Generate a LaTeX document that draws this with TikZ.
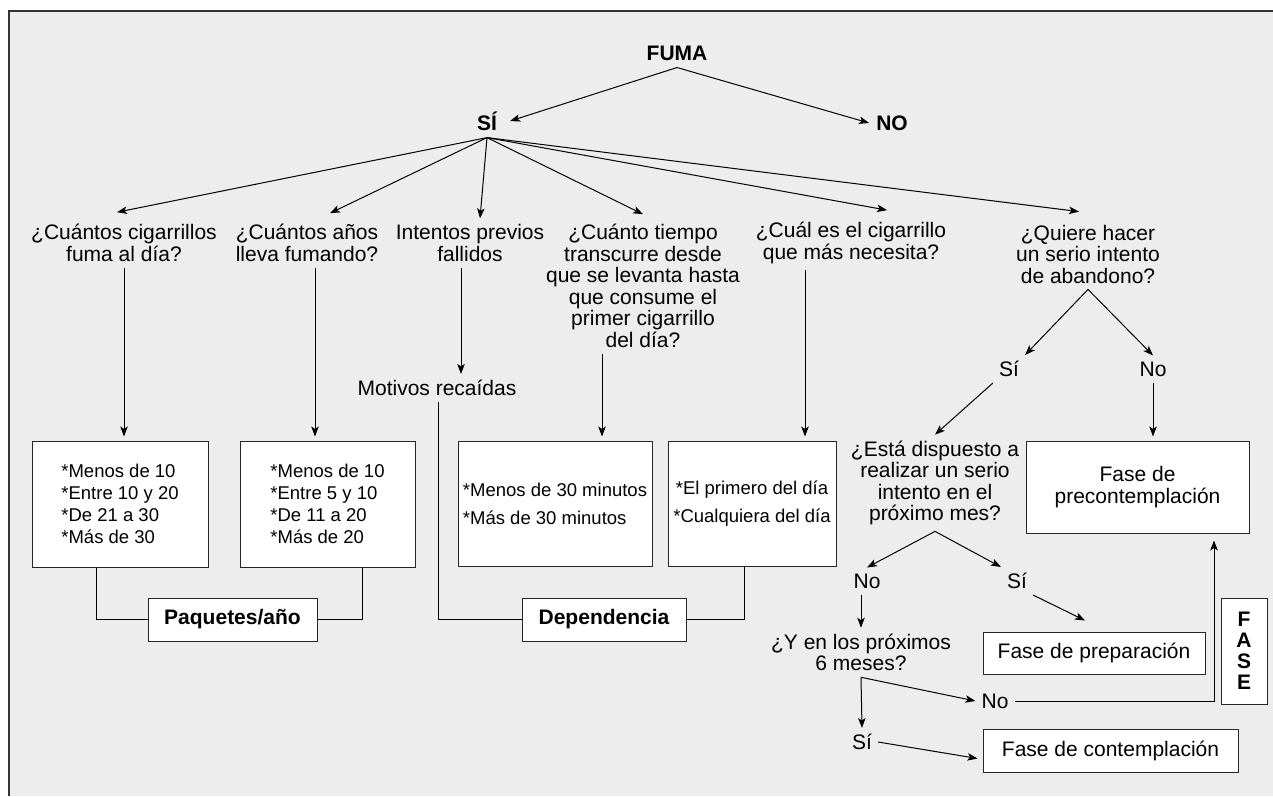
\documentclass[tikz,border=0pt]{standalone}
\usepackage{fontspec}
\setmainfont{Liberation Sans}
\usetikzlibrary{arrows.meta}

\begin{document}
\begin{tikzpicture}[x=1pt,y=-1pt,
        txt/.style={inner sep=6pt, align=center, font=\fontsize{21}{21.5}\selectfont},
        bold/.style={inner sep=7pt, align=center, font=\fontsize{21}{21}\selectfont\bfseries},
        box/.style={draw=black!85, fill=white, line width=1pt, inner sep=0pt},
        list/.style={box, align=left, font=\fontsize{18.5}{22}\selectfont},
        listwide/.style={box, font=\fontsize{18.5}{28}\selectfont},
        arr/.style={-{Stealth[length=10pt,width=7.5pt,inset=2.5pt]}, line width=1pt},
        down/.style={arr, shorten >=4pt},
        line/.style={line width=1pt}]

        % page
        \useasboundingbox (0,0) rectangle (1273,796);
        \fill[black!7] (9,11) rectangle (1273,796);
        \draw[line width=1.5pt, black!80] (9,796) -- (9,11) -- (1273,11);

        % top
        \node[bold] (fuma) at (677,53) {FUMA};
        \node[bold] (si) at (487,121) {SÍ};
        \node[bold] (no) at (892,123) {NO};

        % questions
        \node[txt] (q1) at (124,243) {¿Cuántos cigarrillos\\fuma al día?};
        \node[txt] (q2) at (307,243) {¿Cuántos años\\lleva fumando?};
        \node[txt] (q3) at (470,243) {Intentos previos\\fallidos};
        \node[txt] (q4) at (643,286) {¿Cuánto tiempo\\transcurre desde\\que se levanta hasta\\que consume el\\primer cigarrillo\\del día?};
        \node[txt] (q5) at (851,243) {¿Cuál es el cigarrillo\\que más necesita?};
        \node[txt] (q6) at (1088,254) {¿Quiere hacer\\un serio intento\\de abandono?};
        \node[txt] (motivos) at (437,388) {Motivos recaídas};

        % answer boxes
        \node[list, minimum width=176pt, minimum height=126pt] (b1) at (120,504) {*Menos de 10\\*Entre 10 y 20\\*De 21 a 30\\*Más de 30};
        \node[list, minimum width=175pt, minimum height=126pt] (b2) at (327.5,504) {*Menos de 10\\*Entre 5 y 10\\*De 11 a 20\\*Más de 20};
        \node[listwide, align=left, minimum width=194pt, minimum height=125pt] (b3) at (555,503.5) {*Menos de 30 minutos\\*Más de 30 minutos};
        \node[listwide, align=center, minimum width=168pt, minimum height=125pt] (b4) at (752,503.5) {*El primero del día\\*Cualquiera del día};

        \node[box, bold, inner sep=0pt, minimum width=169pt, minimum height=43pt] (paq) at (232.5,619.5) {Paquetes/año};
        \node[box, bold, inner sep=0pt, minimum width=164pt, minimum height=43pt] (dep) at (604,619.5) {Dependencia};

        % abandono
        \node[txt] (si2) at (1009,369) {Sí};
        \node[txt] (no2) at (1153,369) {No};
        \node[txt] (disp) at (935,483) {¿Está dispuesto a\\realizar un serio\\intento en el\\próximo mes?};
        \node[box, txt, inner sep=0pt, font=\fontsize{21}{22}\selectfont, minimum width=223pt, minimum height=92pt] (pre) at (1137.5,487) {Fase de\\precontemplación};
        \node[txt] (no3) at (867,581) {No};
        \node[txt] (si3) at (1017,581) {Sí};
        \node[txt] (meses) at (861,652.5) {¿Y en los próximos\\6 meses?};
        \node[box, txt, inner sep=0pt, minimum width=222pt, minimum height=42pt] (prep) at (1094,653) {Fase de preparación};
        \node[txt] (no4) at (995,701) {No};
        \node[txt] (si4) at (862,742) {Sí};
        \node[box, txt, inner sep=0pt, minimum width=255pt, minimum height=43pt] (cont) at (1110.5,750.5) {Fase de contemplación};
        \node[box, bold, inner sep=0pt, minimum width=46pt, minimum height=106pt] (fase) at (1244,651) {F\\A\\S\\E};

        % arrows
        \draw[arr] (fuma.south) -- ([xshift=6pt]si.east);
        \draw[arr] (fuma.south) -- (no.west);

        \draw[arr] (si.south) -- ([xshift=-7pt,yshift=6pt]q1.north);
        \draw[arr] (si.south) -- ([xshift=23pt,yshift=5pt]q2.north);
        \draw[arr] (si.south) -- ([xshift=10pt]q3.north);
        \draw[arr] (si.south) -- ([yshift=4pt]q4.north);
        \draw[arr] (si.south) -- ([xshift=36pt,yshift=6pt]q5.north);
        \draw[arr] (si.south) -- ([xshift=-9pt,yshift=7pt]q6.north);

        \draw[down] (q1.south) -- (q1.south |- b1.north);
        \draw[down] ([xshift=8pt]q2.south) -- ([xshift=8pt]q2.south |- b2.north);
        \draw[arr] ([xshift=-9pt]q3.south) -- ([xshift=-9pt]q3.south |- motivos.north);
        \draw[down] ([xshift=-41pt]q4.south) -- ([xshift=-41pt]q4.south |- b3.north);
        \draw[down] ([xshift=-46pt]q5.south) -- ([xshift=-46pt]q5.south |- b4.north);

        \draw[line] ([xshift=-24pt]b1.south) |- (paq.west);
        \draw[line] ([xshift=34.5pt]b2.south) |- (paq.east);
        \draw[line] ([xshift=1pt]motivos.south) |- (dep.west);
        \draw[line] ([xshift=-8pt]b4.south) |- (dep.east);

        \draw[arr] (q6.south) -- (si2.north east);
        \draw[arr] (q6.south) -- (no2.north);
        \draw[arr] (si2.south west) -- (disp.north);
        \draw[down] (no2.south) -- (no2.south |- pre.north);
        \draw[arr] (disp.south) -- (no3.north);
        \draw[arr] (disp.south) -- (si3.north west);
        \draw[arr] (no3.south -| meses.north) -- (meses.north);
        \draw[arr] (si3.south east) -- ([xshift=-9pt,yshift=11pt]prep.north);
        \draw[arr] (meses.south) -- (no4.west);
        \draw[arr] (meses.south) -- (si4.north);
        \draw[arr] (no4.east) -| ([xshift=76.5pt,yshift=-7pt]pre.south);
        \draw[arr] (si4.east) -- ([xshift=-5pt,yshift=-8pt]cont.west);

\end{tikzpicture}
\end{document}
